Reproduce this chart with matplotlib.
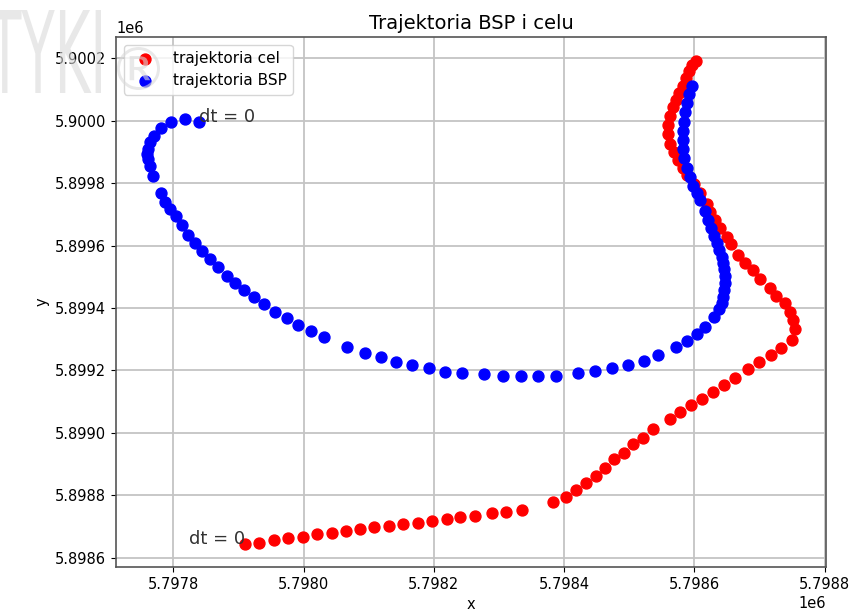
import matplotlib
matplotlib.use('Agg')
import matplotlib.pyplot as plt
from matplotlib.textpath import TextPath
from matplotlib.patches import PathPatch
from matplotlib.font_manager import FontProperties
from matplotlib.transforms import Affine2D, IdentityTransform

plt.rcParams['font.family'] = 'DejaVu Sans'
plt.rcParams['xtick.labelsize'] = 10.5
plt.rcParams['ytick.labelsize'] = 10.5

############################################
# Data (metres)
bsp_x = [5797839, 5797818, 5797796, 5797781, 5797770, 5797764, 5797761, 5797760,
         5797761, 5797764, 5797769, 5797781, 5797787, 5797795, 5797804, 5797813,
         5797823, 5797833, 5797844, 5797856, 5797869, 5797882, 5797895, 5797909,
         5797924, 5797939, 5797956, 5797975, 5797991, 5798011, 5798031, 5798067,
         5798094, 5798119, 5798142, 5798166, 5798192, 5798217, 5798243, 5798277,
         5798306, 5798334, 5798360, 5798387, 5798421, 5798447, 5798473, 5798498,
         5798523, 5798544, 5798572, 5798589, 5798604, 5798616, 5798630, 5798638,
         5798642, 5798644, 5798645, 5798647, 5798647, 5798645, 5798644, 5798642,
         5798638, 5798635, 5798630, 5798625, 5798621, 5798616, 5798608, 5798604,
         5798598, 5798593, 5798589, 5798584, 5798582, 5798582, 5798582, 5798584,
         5798585, 5798589, 5798592, 5798596]
bsp_y = [5899996, 5900005, 5899996, 5899977, 5899951, 5899932, 5899909, 5899893,
         5899877, 5899855, 5899823, 5899768, 5899740, 5899717, 5899695, 5899666,
         5899634, 5899608, 5899583, 5899557, 5899531, 5899502, 5899480, 5899458,
         5899435, 5899413, 5899387, 5899368, 5899345, 5899326, 5899307, 5899275,
         5899256, 5899243, 5899227, 5899217, 5899208, 5899195, 5899192, 5899188,
         5899182, 5899182, 5899182, 5899182, 5899192, 5899198, 5899208, 5899217,
         5899230, 5899249, 5899275, 5899294, 5899317, 5899339, 5899371, 5899397,
         5899416, 5899435, 5899458, 5899480, 5899502, 5899525, 5899544, 5899563,
         5899586, 5899608, 5899631, 5899656, 5899682, 5899711, 5899746, 5899768,
         5899791, 5899820, 5899848, 5899880, 5899909, 5899938, 5899967, 5899996,
         5900028, 5900057, 5900086, 5900111]

cel_x = [5797910, 5797932, 5797955, 5797976, 5797999, 5798021, 5798044, 5798065,
         5798087, 5798108, 5798131, 5798153, 5798176, 5798197, 5798220, 5798240,
         5798263, 5798289, 5798311, 5798335, 5798383, 5798403, 5798418, 5798433,
         5798449, 5798463, 5798476, 5798492, 5798506, 5798521, 5798536, 5798562,
         5798578, 5798595, 5798612, 5798628, 5798645, 5798662, 5798682, 5798699,
         5798717, 5798733, 5798750, 5798754, 5798751, 5798747, 5798739, 5798725,
         5798716, 5798701, 5798690, 5798678, 5798667, 5798656, 5798650, 5798639,
         5798631, 5798624, 5798619, 5798608, 5798599, 5798589, 5798582, 5798575,
         5798569, 5798562, 5798559, 5798559, 5798562, 5798567, 5798572, 5798576,
         5798582, 5798587, 5798592, 5798596, 5798602]
cel_y = [5898644, 5898647, 5898657, 5898663, 5898666, 5898676, 5898679, 5898685,
         5898692, 5898698, 5898701, 5898708, 5898711, 5898717, 5898724, 5898730,
         5898733, 5898743, 5898746, 5898753, 5898778, 5898794, 5898817, 5898839,
         5898862, 5898887, 5898916, 5898935, 5898964, 5898983, 5899012, 5899044,
         5899067, 5899089, 5899108, 5899131, 5899153, 5899176, 5899204, 5899227,
         5899249, 5899272, 5899297, 5899333, 5899361, 5899387, 5899416, 5899438,
         5899464, 5899493, 5899522, 5899544, 5899570, 5899605, 5899627, 5899656,
         5899682, 5899707, 5899733, 5899768, 5899797, 5899826, 5899848, 5899874,
         5899900, 5899925, 5899957, 5899986, 5900015, 5900044, 5900066, 5900089,
         5900111, 5900137, 5900159, 5900179, 5900191]

labels = ['trajektoria cel', 'trajektoria BSP']
title = 'Trajektoria BSP i celu'
start_text = 'dt = 0'
plot_file = 'out.png'
############################################


def Watermark(fig, text, box):
  # squeeze a glyph path into a pixel box (x0, y0, x1, y1), origin bottom-left
  prop = FontProperties(family=['Liberation Sans Narrow', 'DejaVu Sans'])
  path = TextPath((0, 0), text, size=100, prop=prop)
  ext = path.get_extents()
  x0, y0, x1, y1 = box
  tr = Affine2D().translate(-ext.x0, -ext.y0) \
                 .scale((x1 - x0) / ext.width, (y1 - y0) / ext.height) \
                 .translate(x0, y0)
  patch = PathPatch(tr.transform_path(path), transform=IdentityTransform(),
                    facecolor='#d9d9d9', edgecolor='none', alpha=0.6, zorder=10)
  fig.add_artist(patch)


def Trajectories():
  fig = plt.figure(figsize=(8.63, 6.11), dpi=100)
  ax = fig.add_axes([0.1344, 0.072, 0.8226, 0.8674])

  ax.scatter(cel_x, cel_y, color='red', s=62, label=labels[0], zorder=3)
  ax.scatter(bsp_x, bsp_y, color='blue', s=62, label=labels[1], zorder=3)

  ax.text(bsp_x[0], bsp_y[0], start_text, fontsize=13, color='#333333', zorder=4)
  ax.text(cel_x[0], cel_y[0], start_text, fontsize=13, color='#333333', ha='right', zorder=4)

  ax.set_xlim(5797712, 5798802)
  ax.set_ylim(5898570, 5900268)

  ax.set_title(title, fontsize=14)
  ax.set_xlabel('x', fontsize=10.5)
  ax.set_ylabel('y', fontsize=10.5)
  ax.xaxis.get_offset_text().set_fontsize(10.5)
  ax.yaxis.get_offset_text().set_fontsize(10.5)

  ax.grid(True, color='#c4c4c4', linewidth=1.3)
  ax.set_axisbelow(True)
  for s in ax.spines.values():
    s.set_color('#555555')
    s.set_linewidth(1.2)

  ax.legend(loc='upper left', fontsize=11)

  # faint watermark of the source page (screenshot overlay)
  Watermark(fig, 'TYKI', (-12, 611 - 93, 101, 611 - 10))
  Watermark(fig, '\u00ae', (117, 611 - 90, 160, 611 - 47))

  fig.savefig(plot_file, dpi=100)


if __name__ == '__main__':
  Trajectories()
